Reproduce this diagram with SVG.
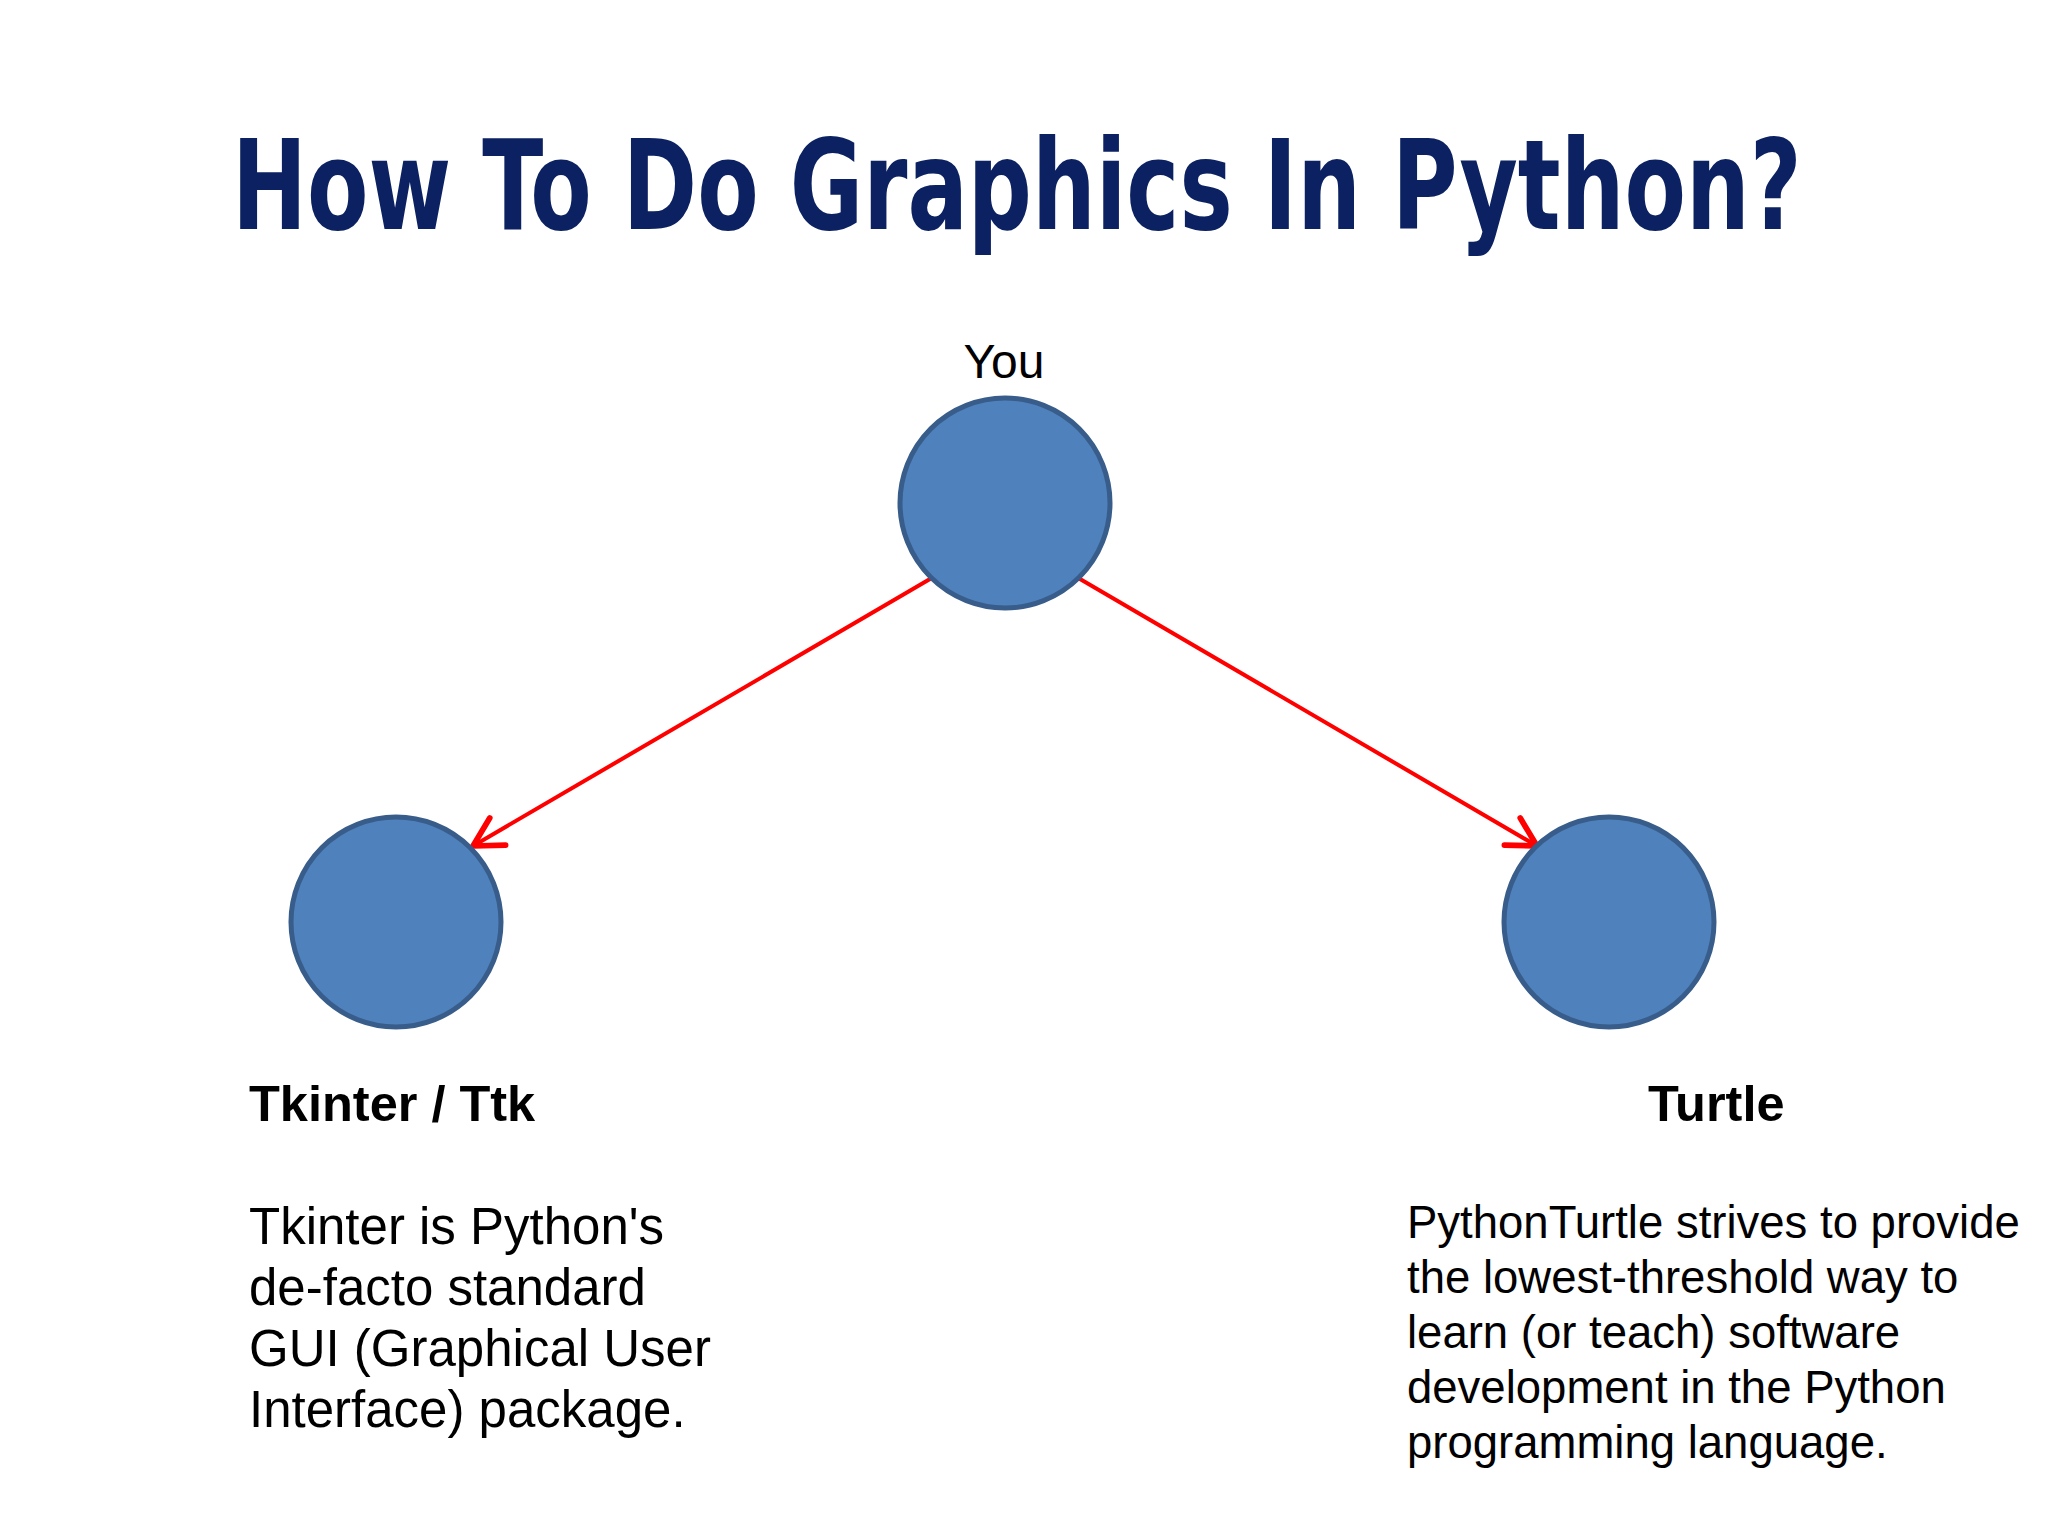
<svg xmlns="http://www.w3.org/2000/svg" width="2048" height="1536" viewBox="0 0 2048 1536">
  <style>
    .title { font-family: "DejaVu Sans Condensed", "DejaVu Sans", sans-serif; font-weight: bold; font-stretch: condensed; font-size: 124px; fill: #0b2161; }
    .node { fill: #4f81bd; stroke: #385d8a; stroke-width: 5; }
    .label { font-family: "Liberation Sans", Arial, sans-serif; fill: #000000; }
    .head { font-weight: bold; font-size: 50.5px; }
    .conn { stroke: #ff0000; stroke-width: 4; fill: none; stroke-linecap: round; }
  </style>
  <defs>
    <marker id="openArrow" markerUnits="userSpaceOnUse" markerWidth="40" markerHeight="40" refX="0" refY="0" viewBox="-24 -14 28 28" orient="auto" overflow="visible">
      <path d="M-20,-11 L0,0 L-20,11" fill="none" stroke="#ff0000" stroke-width="4" stroke-linecap="round" stroke-linejoin="round"/>
    </marker>
  </defs>
  <rect width="2048" height="1536" fill="#ffffff"/>

  <text id="title" class="title" transform="translate(232 229) scale(0.72 1)" x="0" y="0" textLength="2180" lengthAdjust="spacingAndGlyphs">How To Do Graphics In Python?</text>

  <g id="connectors">
    <line class="conn" x1="930" y1="579" x2="473" y2="846" marker-end="url(#openArrow)"/>
    <line class="conn" x1="1080" y1="579" x2="1537" y2="846" marker-end="url(#openArrow)"/>
  </g>

  <g id="node-you">
    <circle class="node" cx="1005" cy="503" r="105"/>
    <text class="label" x="1004" y="378" font-size="48" text-anchor="middle">You</text>
  </g>

  <g id="node-tkinter">
    <circle class="node" cx="396" cy="922" r="105"/>
    <text class="label head" x="249" y="1121">Tkinter / Ttk</text>
    <text class="label" font-size="51">
      <tspan x="249" y="1244">Tkinter is Python's</tspan>
      <tspan x="249" y="1305">de-facto standard</tspan>
      <tspan x="249" y="1366">GUI (Graphical User</tspan>
      <tspan x="249" y="1427">Interface) package.</tspan>
    </text>
  </g>

  <g id="node-turtle">
    <circle class="node" cx="1609" cy="922" r="105"/>
    <text class="label head" x="1648" y="1121">Turtle</text>
    <text class="label" font-size="45.5">
      <tspan x="1407" y="1238">PythonTurtle strives to provide</tspan>
      <tspan x="1407" y="1293">the lowest-threshold way to</tspan>
      <tspan x="1407" y="1348">learn (or teach) software</tspan>
      <tspan x="1407" y="1403">development in the Python</tspan>
      <tspan x="1407" y="1458">programming language.</tspan>
    </text>
  </g>
</svg>
